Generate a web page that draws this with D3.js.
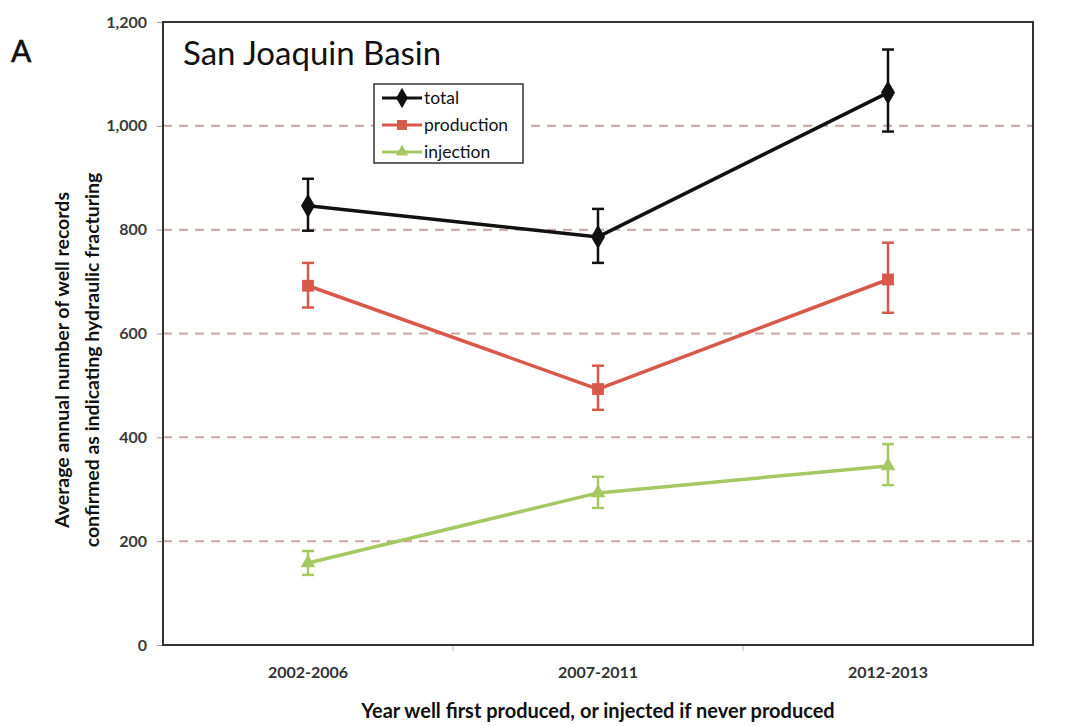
<!DOCTYPE html>
<html>
<head>
<meta charset="utf-8">
<script src="https://cdn.jsdelivr.net/npm/d3@7"></script>
<style>
  body { margin: 0; background: #fff; }
  svg { display: block; font-family: Lato, "Open Sans", sans-serif; }
  svg text { font-family: Lato, "Open Sans", sans-serif; }
</style>
</head>
<body>
<div id="chart"></div>
<script>
// values
const categories = ['2002-2006', '2007-2011', '2012-2013'];
const yTicks = [0, 200, 400, 600, 800, 1000, 1200];

const totalVals = [846, 786, 1064];
const totalHigh = [898, 840, 1147];
const totalLow = [798, 736, 989];

const productionVals = [692, 493, 704];
const productionHigh = [736, 538, 775];
const productionLow = [650, 453, 640];

const injectionVals = [158, 293, 345];
const injectionHigh = [181, 324, 387];
const injectionLow = [135, 264, 308];

const seriesNames = ['total', 'production', 'injection'];

const width = 1071, height = 726;
const margin = { top: 22, right: 38, bottom: 81, left: 163 };
const innerW = width - margin.left - margin.right;
const innerH = height - margin.top - margin.bottom;

const series = [
  { name: seriesNames[0], vals: totalVals, hi: totalHigh, lo: totalLow, color: '#111', symbol: d3.symbolDiamond, size: 170 },
  { name: seriesNames[1], vals: productionVals, hi: productionHigh, lo: productionLow, color: '#d9584c', symbol: d3.symbolSquare, size: 140 },
  { name: seriesNames[2], vals: injectionVals, hi: injectionHigh, lo: injectionLow, color: '#a5c862', symbol: d3.symbolTriangle, size: 95 }
];

const svg = d3.select('#chart').append('svg')
  .attr('width', width)
  .attr('height', height);

const g = svg.append('g')
  .attr('transform', 'translate(' + margin.left + ',' + margin.top + ')');

const x = d3.scaleBand().domain(categories).range([0, innerW]).padding(0);
const y = d3.scaleLinear().domain([0, 1200]).range([innerH, 0]);
const cx = d => x(d) + x.bandwidth() / 2;

// dashed gridlines
g.selectAll('.grid')
  .data(yTicks.filter(t => t > 0 && t < 1200))
  .enter().append('line')
  .attr('x1', 0).attr('x2', innerW)
  .attr('y1', d => y(d)).attr('y2', d => y(d))
  .attr('stroke', '#c9a6a0')
  .attr('stroke-width', 2)
  .attr('stroke-dasharray', '9,7');

// y axis
const yAxis = g.append('g')
  .call(d3.axisLeft(y).tickValues(yTicks).tickSize(6).tickPadding(10)
    .tickFormat(d3.format(',')));
yAxis.attr('font-family', null);
yAxis.select('.domain').remove();
yAxis.selectAll('line').attr('stroke', '#999');
yAxis.selectAll('text')
  .attr('fill', '#3a3a3a')
  .style('font-size', '16px')
  .style('font-weight', 'bold');

// x axis
const xAxis = g.append('g')
  .attr('transform', 'translate(0,' + innerH + ')')
  .call(d3.axisBottom(x).tickSize(0).tickPadding(22));
xAxis.attr('font-family', null);
xAxis.select('.domain').remove();
xAxis.selectAll('text')
  .attr('fill', '#333')
  .style('font-size', '16px')
  .style('font-weight', 'bold');
// small boundary ticks between categories
g.selectAll('.xtick')
  .data(categories.slice(1))
  .enter().append('line')
  .attr('x1', d => x(d)).attr('x2', d => x(d))
  .attr('y1', innerH).attr('y2', innerH + 6)
  .attr('stroke', '#bbb');

// plot frame
g.append('rect')
  .attr('width', innerW).attr('height', innerH)
  .attr('fill', 'none')
  .attr('stroke', '#333')
  .attr('stroke-width', 2);

// series
const line = d3.line().x((d, i) => cx(categories[i])).y(d => y(d));

series.forEach(s => {
  const sg = g.append('g');
  sg.append('path')
    .datum(s.vals)
    .attr('d', line)
    .attr('fill', 'none')
    .attr('stroke', s.color)
    .attr('stroke-width', 3.5);
  // error bars
  categories.forEach((c, i) => {
    sg.append('line')
      .attr('x1', cx(c)).attr('x2', cx(c))
      .attr('y1', y(s.hi[i])).attr('y2', y(s.lo[i]))
      .attr('stroke', s.color).attr('stroke-width', 2.5);
    [s.hi[i], s.lo[i]].forEach(v => {
      sg.append('line')
        .attr('x1', cx(c) - 6).attr('x2', cx(c) + 6)
        .attr('y1', y(v)).attr('y2', y(v))
        .attr('stroke', s.color).attr('stroke-width', 2.5);
    });
  });
  sg.selectAll('.pt')
    .data(s.vals)
    .enter().append('path')
    .attr('d', d3.symbol().type(s.symbol).size(s.size))
    .attr('transform', (d, i) => 'translate(' + cx(categories[i]) + ',' + y(d) + ')')
    .attr('fill', s.color);
});

// legend
const lg = svg.append('g').attr('transform', 'translate(374,84)');
lg.append('rect')
  .attr('width', 149).attr('height', 79)
  .attr('fill', '#fff')
  .attr('stroke', '#333')
  .attr('stroke-width', 1.5);
series.forEach((s, i) => {
  const row = lg.append('g').attr('transform', 'translate(0,' + (14 + i * 27) + ')');
  row.append('line')
    .attr('x1', 8).attr('x2', 48)
    .attr('stroke', s.color).attr('stroke-width', 3);
  row.append('path')
    .attr('d', d3.symbol().type(s.symbol).size(s.size * 0.7))
    .attr('transform', 'translate(28,0)')
    .attr('fill', s.color);
  row.append('text')
    .attr('x', 50).attr('y', 0).attr('dy', '0.35em')
    .style('font-size', '17.5px')
    .attr('fill', '#111')
    .text(s.name);
});

// title and panel letter
svg.append('text')
  .attr('x', 183).attr('y', 65)
  .style('font-size', '33px')
  .attr('fill', '#111')
  .text('San Joaquin Basin');

svg.append('text')
  .attr('x', 11).attr('y', 62)
  .style('font-size', '30px')
  .attr('fill', '#111')
  .attr('stroke', '#111')
  .attr('stroke-width', 0.6)
  .text('A');

// axis titles
const yl = svg.append('text')
  .attr('transform', 'translate(69,360) rotate(-90)')
  .attr('text-anchor', 'middle')
  .style('font-size', '19.5px')
  .style('font-weight', 'bold')
  .attr('fill', '#111');
yl.append('tspan').attr('x', 0).attr('dy', 0).text('Average annual number of well records');
yl.append('tspan').attr('x', 0).attr('dy', 30).text('confirmed as indicating hydraulic fracturing');

svg.append('text')
  .attr('x', margin.left + innerW / 2)
  .attr('y', 718)
  .attr('text-anchor', 'middle')
  .style('font-size', '20px')
  .style('font-weight', 'bold')
  .attr('fill', '#111')
  .text('Year well first produced, or injected if never produced');
</script>
</body>
</html>
